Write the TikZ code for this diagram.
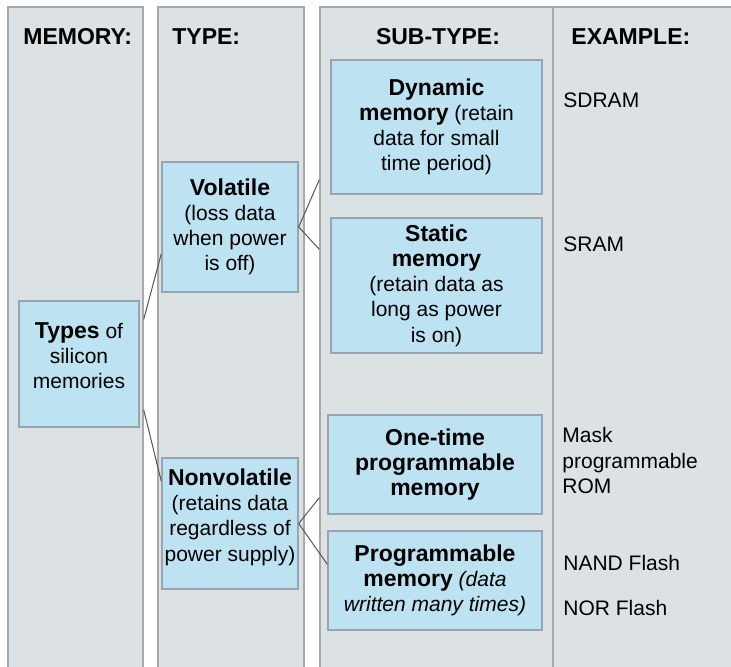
\documentclass[tikz,border=0pt]{standalone}
\usepackage{fontspec}
\setmainfont{Liberation Sans}
\usepackage{tikz}
\definecolor{panelgray}{RGB}{220,225,227}
\definecolor{paneledge}{RGB}{166,170,174}
\definecolor{boxblue}{RGB}{189,226,241}
\definecolor{boxedge}{RGB}{150,165,175}
\definecolor{linkgray}{RGB}{85,85,85}
\newcommand{\bb}[1]{{\fontsize{11.5}{12.8}\selectfont\bfseries #1}}

\begin{document}
\begin{tikzpicture}[x=0.5pt,y=-0.5pt]
\tikzstyle{every node}+=[inner sep=0pt]
\tikzstyle{panel}=[fill=panelgray,draw=paneledge,line width=0.7pt]
\tikzstyle{membox}=[fill=boxblue,draw=boxedge,line width=0.7pt,align=center,
  font=\fontsize{10.5}{12.6}\selectfont]
\tikzstyle{header}=[font=\fontsize{11.5}{13}\selectfont\bfseries]
\tikzstyle{example}=[font=\fontsize{10.5}{12.8}\selectfont,align=left]
\tikzstyle{link}=[draw=linkgray,line width=0.5pt]
\useasboundingbox (0,0) rectangle (731,666);
\clip (0,0) rectangle (731,666);
\draw [panel] (8,7) rectangle (143,690);
\draw [panel] (158,7) rectangle (304,690);
\draw [panel] (320,7) rectangle (760,690);
\draw [paneledge,line width=1pt] (553,7) -- (553,690);
\node (hmem) [header,anchor=base west] at (23,44) {MEMORY:};
\node (htype) [header,anchor=base west] at (172,44) {TYPE:};
\node (hsub) [header,anchor=base] at (438,44) {SUB-TYPE:};
\node (hex) [header,anchor=base west] at (571,44) {EXAMPLE:};
\node (types) [membox,minimum width=60pt,minimum height=63pt] at (79,364)
  {\bb{Types} of\\ silicon\\ memories\\[-4pt]\mbox{}};
\node (vol) [membox,minimum width=68pt,minimum height=65pt] at (230,227)
  {\bb{Volatile}\\ (loss data\\ when power\\ is off)};
\node (nonvol) [membox,minimum width=68pt,minimum height=65.5pt] at (230,523.5)
  {\bb{Nonvolatile}\\ (retains data\\ regardless of\\ power supply)\\[-4pt]\mbox{}};
\node (dyn) [membox,minimum width=105.5pt,minimum height=67pt] at (436.5,127)
  {\bb{Dynamic}\\ \bb{memory} (retain\\ data for small\\ time period)};
\node (stat) [membox,minimum width=105.5pt,minimum height=67.5pt] at (436.5,285.5)
  {\bb{Static}\\ \bb{memory}\\ (retain data as\\ long as power\\ is on)};
\node (otp) [membox,minimum width=107pt,minimum height=49.5pt] at (435,464.5)
  {\bb{One-time}\\ \bb{programmable}\\ \bb{memory}};
\node (prog) [membox,minimum width=107pt,minimum height=49.5pt] at (435,580.5)
  {\bb{Programmable}\\ \bb{memory} \textit{(data}\\ \textit{written many times)}};
\node (sdram) [example,anchor=base west] at (563,107) {SDRAM};
\node (sram) [example,anchor=base west] at (563,251) {SRAM};
\node (mask) [example,anchor=north west] at (562,427) {Mask\\ programmable\\ ROM};
\node (nand) [example,anchor=base west] at (563,570) {NAND Flash};
\node (nor) [example,anchor=base west] at (563,615) {NOR Flash};
\draw [link] ([shift={(4,19)}]types.north east) -- ([shift={(0,-39)}]vol.south west);
\draw [link] ([shift={(4,-18)}]types.south east) -- ([shift={(0,24)}]nonvol.north west);
\draw [link] (vol.east) -- ([shift={(-11,-15)}]dyn.south west);
\draw [link] (vol.east) -- ([shift={(-11,32)}]stat.north west);
\draw [link] (nonvol.east) -- ([shift={(-8,-17)}]otp.south west);
\draw [link] (nonvol.east) -- ([shift={(0,34)}]prog.north west);
\end{tikzpicture}
\end{document}
